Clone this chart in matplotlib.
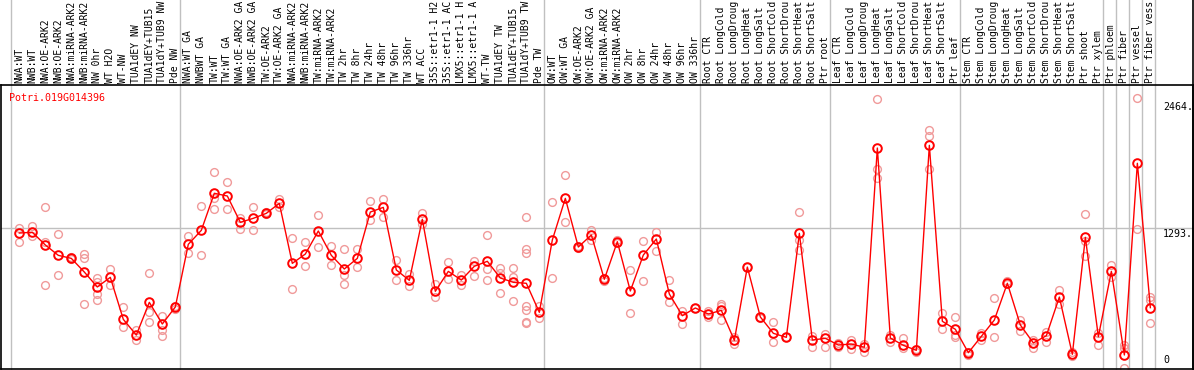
import matplotlib
matplotlib.use("Agg")
import matplotlib.pyplot as plt
from matplotlib.transforms import blended_transform_factory

# sample names, in plotting order (as far as they show in the label band)
samples = [
    "NWA:WT", "NWB:WT", "NWA:OE-ARK2", "NWB:OE-ARK2", "NWA:miRNA-ARK2", "NWB:miRNA-ARK2",
    "NW 0hr", "WT H2O", "WT-NW", "TUA1dEY NW", "TUA1dEY+TUB15", "TUA1dY+TUB9 NW", "Pde NW",
    "NWA:WT GA", "NWBWT GA", "TW:WT", "TW:WT GA", "NWA:OE-ARK2 GA", "NWB:OE-ARK2 GA",
    "TW:OE-ARK2", "TW:OE-ARK2 GA", "NWA:miRNA-ARK2", "NWB:miRNA-ARK2", "TW:miRNA-ARK2",
    "TW:miRNA-ARK2", "TW 2hr", "TW 8hr", "TW 24hr", "TW 48hr", "TW 96hr", "TW 336hr", "WT ACC",
    "35S::etr1-1 H2", "35S::etr1-1 AC", "LMX5::etr1-1 H", "LMX5::etr1-1 A", "WT-TW",
    "TUA1dEY TW", "TUA1dEY+TUB15", "TUA1dY+TUB9 TW", "Pde TW",
    "OW:WT", "OW:WT GA", "OW:OE-ARK2", "OW:OE-ARK2 GA", "OW:miRNA-ARK2", "OW:miRNA-ARK2",
    "OW 2hr", "OW 8hr", "OW 24hr", "OW 48hr", "OW 96hr", "OW 336hr",
    "Root CTR", "Root LongCold", "Root LongDroug", "Root LongHeat", "Root LongSalt",
    "Root ShortCold", "Root ShortDrou", "Root ShortHeat", "Root ShortSalt", "Ptr root",
    "Leaf CTR", "Leaf LongCold", "Leaf LongDroug", "Leaf LongHeat", "Leaf LongSalt",
    "Leaf ShortCold", "Leaf ShortDrou", "Leaf ShortHeat", "Leaf ShortSalt", "Ptr leaf",
    "Stem CTR", "Stem LongCold", "Stem LongDroug", "Stem LongHeat", "Stem LongSalt",
    "Stem ShortCold", "Stem ShortDrou", "Stem ShortHeat", "Stem ShortSalt", "Ptr shoot",
    "Ptr xylem", "Ptr phloem", "Ptr fiber", "Ptr vessel", "Ptr fiber vess",
]

# mean expression per sample
means = [
    1249, 1256, 1139, 1043, 1015, 889, 751, 840, 452, 307, 609, 409, 566,
    1145, 1274, 1616, 1591, 1348, 1385, 1431, 1523, 969, 1055, 1268, 1043, 917, 1015,
    1443, 1486, 908, 812, 1376, 711, 895, 815, 942, 988, 834, 794, 785, 517,
    1185, 1569, 1120, 1231, 822, 1169, 714, 1046, 1194, 686, 486, 557,
    501, 535, 258, 935, 474, 323, 286, 1246, 261, 277,
    215, 224, 194, 2034, 280, 212, 166, 2059, 434, 360,
    144, 295, 446, 785, 400, 234, 301, 658, 129, 1209,
    292, 895, 123, 1893, 560,
]

# individual replicates per sample
replicates = [
    [1299, 1163], [1317, 1225], [1489, 1169, 769], [1237, 858], [1028, 1009],
    [1059, 1022, 594], [831, 800, 683, 631], [917, 769], [563, 378], [354, 258],
    [877, 517, 425], [486, 354, 301], [572, 548],
    [1222, 1062], [1499, 1043], [1810, 1569, 1468], [1720, 1468], [1391, 1286],
    [1489, 1274], [1440, 1422], [1566, 1493], [1203, 732], [1166, 942], [1416, 1117],
    [1126, 954], [1102, 862, 775], [1102, 935], [1542, 1369], [1560, 1397],
    [1000, 812], [868, 760], [1437, 1329], [778, 655], [982, 822], [858, 769],
    [991, 855], [1228, 920, 812], [926, 880, 692], [926, 843, 622],
    [1397, 1102, 1068, 572, 535, 424, 418], [572, 461],
    [1536, 834], [1785, 1351], [1126, 1114], [1280, 1182], [837, 809], [1182, 1157],
    [905, 508], [1172, 806], [1259, 1080], [812, 615], [532, 406], [557],
    [532, 471], [597, 572, 443], [289, 228], [935], [461], [424, 240], [286],
    [1443, 1185, 1095], [295, 200], [320, 194],
    [237, 194], [258, 181], [221, 154], [2484, 1837, 1760], [304, 243], [283, 184],
    [178, 154], [2200, 2142, 1837], [508, 360], [474, 308, 286],
    [154, 123], [326, 264], [646, 289], [803, 775], [443, 348], [258, 191],
    [338, 243], [720, 591], [147, 114], [1425, 1172, 1034],
    [326, 215], [954, 840], [215, 184, 0], [2493, 1286], [655, 631, 421],
]

# last sample index of each block (grey separators)
group_ends = [-1, 12, 40, 52, 62, 72, 83, 84, 85, 86, 87]
gene = "Potri.019G014396"
ytick_vals = [0, 1293, 2464]
ytick_text = ["0", "1293.", "2464."]

mono = "DejaVu Sans Mono"
W, H = 1194, 370
fig = plt.figure(figsize=(W / 100, H / 100), dpi=100)
ax = fig.add_axes([1 / W, 1 / H, 1192 / W, 284 / H])

xs = list(range(len(samples)))
ax.set_xlim(-1.408, 90.28)
ax.set_ylim(-6.5, 2616)
ax.set_xticks([])
ax.set_yticks([])
for s in ax.spines.values():
    s.set_linewidth(1.2)
    s.set_color("black")

grey = "#c0c0c0"
top_extend = 1 + 85 / 284
for g in group_ends:
    ax.axvline(g + 1 - 0.64, ymin=0, ymax=top_extend, color=grey, lw=1.0,
               clip_on=False, zorder=0)
ax.axhline(1293, color=grey, lw=1.0, zorder=0)

# replicates
for x, reps in zip(xs, replicates):
    ax.plot([x] * len(reps), reps, linestyle="none", marker="o", ms=5.6,
            mfc="none", mec="#f09a9a", mew=1.0, zorder=2, clip_on=False)

# mean line
ax.plot(xs, means, color="red", lw=1.0, zorder=3)
ax.plot(xs, means, linestyle="none", marker="o", ms=6.2, mfc="none",
        mec="red", mew=1.4, zorder=4)

# sample labels above the plot
trans = blended_transform_factory(ax.transData, ax.transAxes)
for x, name in zip(xs, samples):
    ax.text(x, 1 + 2 / 284, name, transform=trans, rotation=90, ha="center",
            va="bottom", family=mono, fontsize=7.0, color="black", clip_on=False)

# gene name
ax.text(8.3 / 1192, 1 - 8 / 284, gene, transform=ax.transAxes, ha="left",
        va="top", family=mono, fontsize=7.2, color="red")

# value labels on the right
ytrans = blended_transform_factory(ax.transAxes, ax.transData)
for v, t in zip(ytick_vals, ytick_text):
    if v == 0:
        ax.text(1162 / 1192, 30, t, transform=ytrans, ha="left", va="bottom",
                family=mono, fontsize=7.2)
    else:
        ax.text(1162 / 1192, v - 8, t, transform=ytrans, ha="left", va="top",
                family=mono, fontsize=7.2)

# right edge line through the label band
ax.axvline(90.28, ymin=0, ymax=top_extend, color="black", lw=1.2, clip_on=False)

fig.savefig("out.png", dpi=100)
